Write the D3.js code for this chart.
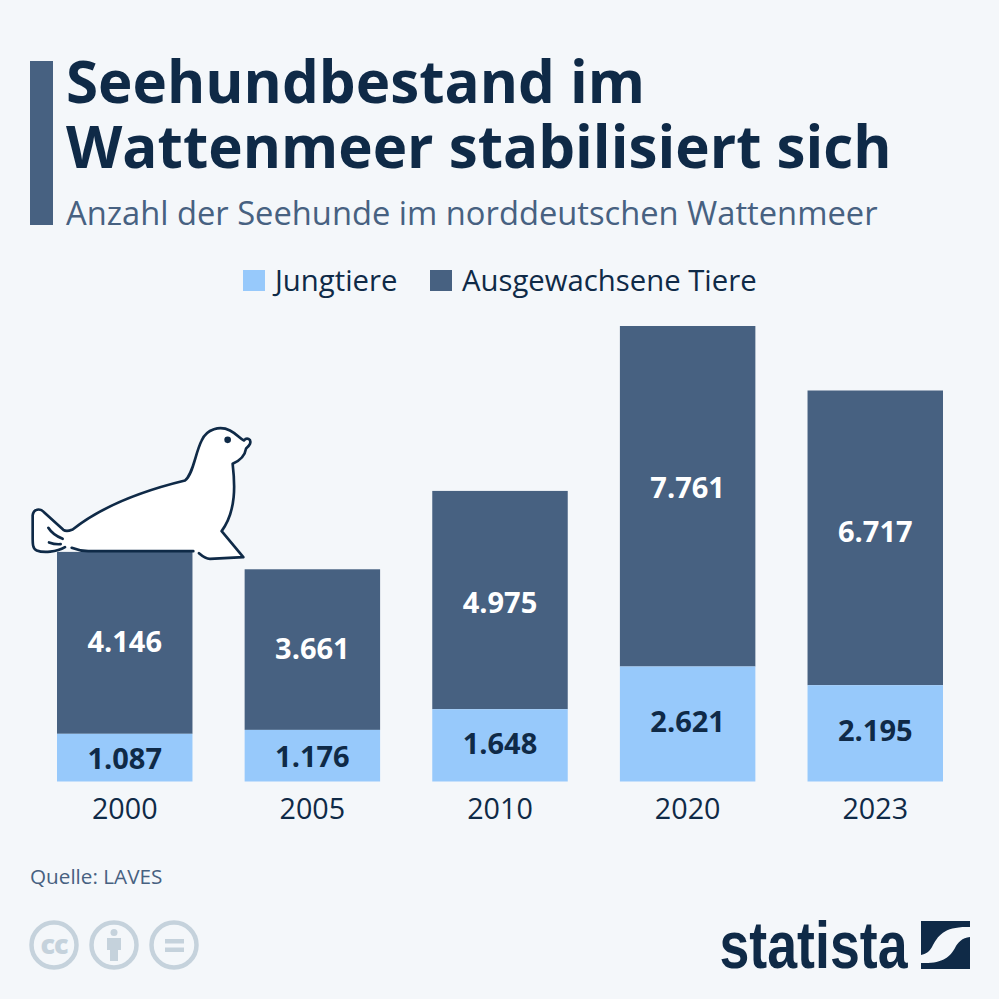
<!DOCTYPE html>
<meta charset="utf-8">
<html>
<head>
<style>
    html, body { margin: 0; padding: 0; background: #f4f7fa; }
    text { font-family: "Open Sans", sans-serif; }
</style>
</head>
<body>
<svg id="chart" width="999" height="999"></svg>
<script src="https://cdn.jsdelivr.net/npm/d3@7"></script>
<script>
    var years = ['2000', '2005', '2010', '2020', '2023']
    var jungtiere = [1087, 1176, 1648, 2621, 2195]
    var ausgewachsene = [4146, 3661, 4975, 7761, 6717]
    var seriesNames = ['Jungtiere', 'Ausgewachsene Tiere']
    var titleLines = ['Seehundbestand im', 'Wattenmeer stabilisiert sich']
    var subtitle = 'Anzahl der Seehunde im norddeutschen Wattenmeer'
    var source = 'Quelle: LAVES'

    var dark = '#0f2a47', slate = '#476181', light = '#97c9fb', pale = '#c5d2dc', bg = '#f4f7fa'

    var svg = d3.select('#chart')
    svg.append('rect').attr('width', 999).attr('height', 999).attr('fill', bg)

    // header
    svg.append('rect').attr('x', 30).attr('y', 61).attr('width', 23).attr('height', 164).attr('fill', slate)
    svg.selectAll('.title').data(titleLines).enter().append('text')
        .attr('class', 'title')
        .attr('x', 66)
        .attr('y', function(d, i) { return 103 + i * 65 })
        .attr('font-size', 58.3)
        .attr('font-weight', 700)
        .attr('fill', dark)
        .text(function(d) { return d })
    svg.append('text').attr('x', 66).attr('y', 225)
        .attr('font-size', 32.7).attr('fill', slate).text(subtitle)

    // legend
    var legendX = [243, 430]
    var legendColors = [light, slate]
    seriesNames.forEach(function(name, i) {
        svg.append('rect').attr('x', legendX[i]).attr('y', 270).attr('width', 22).attr('height', 21).attr('fill', legendColors[i])
        svg.append('text').attr('x', legendX[i] + 32).attr('y', 291)
            .attr('font-size', 29.3).attr('fill', dark).text(name)
    })

    // scales
    var x = d3.scaleBand().domain(years).range([57, 943]).paddingInner(0.278).paddingOuter(0)
    var y = d3.scaleLinear().domain([0, 10382]).range([781.5, 326])
    var fmt = d3.formatLocale({decimal: ',', thousands: '.', grouping: [3], currency: ['', '€']}).format(',d')

    // the labels are not quite centred in the picture, small shifts per bar
    var altShift = [-1, -1, 3, -8, -6]
    var jungShift = [1, 1, -1, -2, -2]

    var rows = years.map(function(year, i) {
        return {year: year, jung: jungtiere[i], alt: ausgewachsene[i], altShift: altShift[i], jungShift: jungShift[i]}
    })

    svg.selectAll('.alt').data(rows).enter().append('rect')
        .attr('class', 'alt')
        .attr('x', function(d) { return x(d.year) })
        .attr('width', x.bandwidth())
        .attr('y', function(d) { return y(d.jung + d.alt) })
        .attr('height', function(d) { return y(d.jung) - y(d.jung + d.alt) })
        .attr('fill', slate)
    svg.selectAll('.jung').data(rows).enter().append('rect')
        .attr('class', 'jung')
        .attr('x', function(d) { return x(d.year) })
        .attr('width', x.bandwidth())
        .attr('y', function(d) { return y(d.jung) })
        .attr('height', function(d) { return y(0) - y(d.jung) })
        .attr('fill', light)

    svg.selectAll('.altLabel').data(rows).enter().append('text')
        .attr('class', 'altLabel')
        .attr('x', function(d) { return x(d.year) + x.bandwidth() / 2 })
        .attr('y', function(d) { return y(d.jung + d.alt / 2) + 10 + d.altShift })
        .attr('text-anchor', 'middle').attr('font-size', 29).attr('font-weight', 700).attr('fill', '#fff')
        .text(function(d) { return fmt(d.alt) })
    svg.selectAll('.jungLabel').data(rows).enter().append('text')
        .attr('class', 'jungLabel')
        .attr('x', function(d) { return x(d.year) + x.bandwidth() / 2 })
        .attr('y', function(d) { return y(d.jung / 2) + 10 + d.jungShift })
        .attr('text-anchor', 'middle').attr('font-size', 29).attr('font-weight', 700).attr('fill', dark)
        .text(function(d) { return fmt(d.jung) })

    // year axis
    var axis = svg.append('g').attr('transform', 'translate(0,781)')
        .call(d3.axisBottom(x).tickSize(0).tickPadding(18))
    axis.select('.domain').remove()
    axis.selectAll('text').attr('font-size', 28.7).attr('fill', dark)
        .style('font-family', '"Open Sans", sans-serif')

    // seal, drawn in the 3x crop coordinates
    var seal = svg.append('g').attr('transform', 'translate(20,410.5) scale(0.3333)')
    seal.append('path')
        .attr('d', 'M150,360 C230,300 330,250 495,210 C520,190 525,130 545,90 C560,55 600,45 630,60 C650,70 660,85 672,90 C680,80 695,85 690,100 C685,110 680,110 678,115 C675,135 660,150 638,160 C645,220 650,300 605,362 L670,440 L570,445 C555,445 545,435 537,428 L520,422 L205,422 C185,422 170,418 155,412 L135,410 C110,425 70,428 50,420 C38,415 38,400 38,380 L38,315 C40,295 60,292 72,305 L130,358 C140,365 150,360 150,360 Z')
        .attr('fill', '#fff')
    var sealLines = [
        'M135,410 C110,425 70,428 50,420 C38,415 38,400 38,380 L38,315 C40,295 60,292 72,305 L130,358 C140,365 150,360 158,357 C230,300 330,250 495,210 C520,190 525,130 545,90 C560,55 600,45 630,60 C650,70 660,85 672,90 C680,80 695,85 690,100 C685,110 680,110 678,115 C675,135 660,150 638,160 C645,220 650,300 605,362 L670,440 L570,445 C555,445 545,435 537,428',
        'M155,412 C170,418 185,422 205,422 L520,422',
        'M85,352 C95,368 110,378 128,385',
        'M87,396 C98,400 110,402 122,401'
    ]
    seal.selectAll('.sealLine').data(sealLines).enter().append('path')
        .attr('class', 'sealLine')
        .attr('d', function(d) { return d })
        .attr('fill', 'none').attr('stroke', dark).attr('stroke-width', 8)
        .attr('stroke-linecap', 'round').attr('stroke-linejoin', 'round')
    seal.append('circle').attr('cx', 623).attr('cy', 88).attr('r', 10).attr('fill', dark)

    // footer
    svg.append('text').attr('x', 30).attr('y', 884).attr('font-size', 20.7).attr('fill', slate).text(source)

    var ccX = [54, 114, 174]
    svg.selectAll('.cc').data(ccX).enter().append('circle')
        .attr('class', 'cc').attr('cx', function(d) { return d }).attr('cy', 945).attr('r', 22.5)
        .attr('fill', 'none').attr('stroke', pale).attr('stroke-width', 4.5)
    svg.append('text').attr('x', 54).attr('y', 954).attr('text-anchor', 'middle')
        .attr('font-size', 27).attr('font-weight', 800).attr('letter-spacing', -1).attr('fill', pale).text('cc')
    svg.append('circle').attr('cx', 114).attr('cy', 932.5).attr('r', 3.5).attr('fill', pale)
    svg.append('path').attr('d', 'M107,938 H121 V950 H118 V961 H110 V950 H107 Z').attr('fill', pale)
    svg.append('rect').attr('x', 165).attr('y', 939).attr('width', 19).attr('height', 4.5).attr('fill', pale)
    svg.append('rect').attr('x', 165).attr('y', 947.5).attr('width', 19).attr('height', 4.5).attr('fill', pale)

    // statista logo
    svg.append('text').attr('x', 719.5).attr('y', 968)
        .attr('textLength', 188).attr('lengthAdjust', 'spacingAndGlyphs')
        .attr('font-size', 66).attr('font-weight', 700).attr('fill', dark)
        .style('font-family', '"Liberation Sans Narrow", "Liberation Sans", sans-serif')
        .text('statista')
    svg.append('path')
        .attr('d', 'M921,921 H970 V927 C945,926 938,935 932,947 C929,952 926,954 921,955 Z')
        .attr('fill', dark)
    svg.append('path')
        .attr('d', 'M970,937 V969 H921 V963 C942,964 950,957 955,948 C958,942 962,938 970,937 Z')
        .attr('fill', dark)
</script>
</body>
</html>
